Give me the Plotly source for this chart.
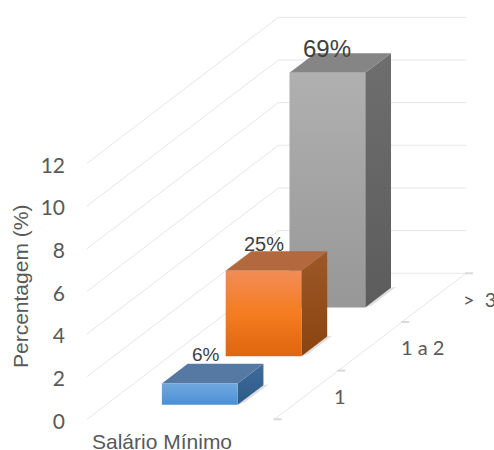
import plotly.graph_objects as go

# ---- data ----
categories = ["1", "1 a 2", ">  3"]
values = [1, 4, 11]
percent_labels = ["6%", "25%", "69%"]
value_ticks = [0, 2, 4, 6, 8, 10, 12]
series_title = "Salário Mínimo"
axis_title = "Percentagem (%)"

# ---- styles ----
front_scales = [
    [[0, "#4A90D6"], [1, "#71A8DE"]],
    [[0, "#E0650F"], [0.5, "#F57C20"], [1, "#F28C56"]],
    [[0, "#979797"], [1, "#B0B0B0"]],
]
side_scales = [
    [[0, "#2C5A8A"], [1, "#3F6C99"]],
    [[0, "#8A4410"], [1, "#9C5828"]],
    [[0, "#5C5C5C"], [1, "#6E6E6E"]],
]
top_colors = ["#5679A3", "#B3683E", "#858585"]
label_sizes = [19, 20, 24]
label_shift = [(6, 9), (0, 7), (0, 5)]  # px: x, y above the back edge of the bar top
GRID = "#E6E6E6"
TICK_TXT = "#595959"

W, H = 494, 450
LEFT = 68
ORIGIN_X, ORIGIN_Y = 87, 419.3   # front-left floor corner in page pixels
UNIT_X, UNIT_Y = 187.5, 21.33    # pixels per category width, per value unit
DEPTH_X, DEPTH_Y = 63.8, 48.67   # pixels per series slot of depth
BAR = 0.404
GAP = (1 - BAR) / 2


def project(u, d, v):
    """Oblique projection: category position u, depth d, value v -> axis coordinates."""
    return u + d * DEPTH_X / UNIT_X, v + d * DEPTH_Y / UNIT_Y


def poly(points, **kw):
    xy = [project(*p) for p in points]
    xy.append(xy[0])
    return go.Scatter(
        x=[p[0] for p in xy], y=[p[1] for p in xy], mode="lines",
        line=dict(width=0), fill="toself", hoverinfo="skip", showlegend=False, **kw
    )


def seg(a, b, color=GRID, width=1):
    pa, pb = project(*a), project(*b)
    return go.Scatter(
        x=[pa[0], pb[0]], y=[pa[1], pb[1]], mode="lines",
        line=dict(color=color, width=width), hoverinfo="skip", showlegend=False
    )


n = len(categories)
fig = go.Figure()

# walls
for t in value_ticks:
    fig.add_trace(seg((0, 0, t), (0, n, t)))
    fig.add_trace(seg((0, n, t), (1, n, t)))
# floor edge and its tick marks
fig.add_trace(seg((1, 0, 0), (1, n, 0)))
for d in range(n + 1):
    a = project(1, d, 0)
    fig.add_trace(go.Scatter(
        x=[a[0] - 1 / UNIT_X, a[0] + 7 / UNIT_X], y=[a[1], a[1]], mode="lines",
        line=dict(color="#D9D9D9", width=2), hoverinfo="skip", showlegend=False))

# bars, back to front
for i in reversed(range(n)):
    u0, u1, d0, d1, v = GAP, GAP + BAR, i + GAP, i + GAP + BAR, values[i]
    # soft floor shadow
    fig.add_trace(poly([(u1, d0, 0), (u1 + 0.02, d0 + 0.04, 0), (u1 + 0.02, d1 + 0.02, 0), (u1, d1, 0)],
                       fillcolor="rgba(120,120,120,0.25)"))
    fig.add_trace(poly([(u1, d0, 0), (u1, d1, 0), (u1, d1, v), (u1, d0, v)],
                       fillgradient=dict(type="vertical", colorscale=side_scales[i])))
    fig.add_trace(poly([(u0, d0, v), (u1, d0, v), (u1, d1, v), (u0, d1, v)],
                       fillcolor=top_colors[i]))
    fig.add_trace(poly([(u0, d0, 0), (u1, d0, 0), (u1, d0, v), (u0, d0, v)],
                       fillgradient=dict(type="vertical", colorscale=front_scales[i])))
    lx, ly = project((u0 + u1) / 2, d1, v)
    lx -= (d1 - d0) * DEPTH_X / UNIT_X
    fig.add_annotation(x=lx, y=ly, text=percent_labels[i], showarrow=False,
                       xshift=label_shift[i][0], yshift=label_shift[i][1],
                       font=dict(family="Liberation Sans", size=label_sizes[i], color="#404040"))

# category labels on the depth axis
cat_pos = [(340, 396), (422, 347), (479, 299)]
for i, c in enumerate(categories):
    ax, ay = project(1, i + 0.5, 0)
    fig.add_annotation(x=ax, y=ay, text=c, showarrow=False, xanchor="center",
                       xshift=cat_pos[i][0] - (ORIGIN_X + ax * UNIT_X),
                       yshift=(ORIGIN_Y - ay * UNIT_Y) - cat_pos[i][1],
                       font=dict(family="Lato", size=20, color=TICK_TXT))

fig.add_annotation(xref="paper", yref="paper", x=(161.5 - LEFT) / (W - LEFT), y=1 - 441.5 / H,
                   text=series_title, showarrow=False, xanchor="center", yanchor="middle",
                   font=dict(family="Liberation Sans", size=21, color=TICK_TXT))
fig.add_annotation(xref="paper", yref="paper", x=(20 - LEFT) / (W - LEFT), y=1 - 287 / H,
                   text=axis_title, showarrow=False, textangle=-90, xanchor="center", yanchor="middle",
                   font=dict(family="Liberation Sans", size=21, color=TICK_TXT))

fig.update_layout(
    width=W, height=H, margin=dict(l=LEFT, r=0, t=0, b=0),
    paper_bgcolor="white", plot_bgcolor="white", showlegend=False,
    xaxis=dict(range=[(LEFT - ORIGIN_X) / UNIT_X, (W - ORIGIN_X) / UNIT_X], visible=False, fixedrange=True),
    yaxis=dict(range=[(ORIGIN_Y - H) / UNIT_Y, ORIGIN_Y / UNIT_Y], tickmode="array",
               tickvals=value_ticks, ticktext=[str(t) for t in value_ticks],
               showgrid=False, zeroline=False, showline=False, ticks="", ticklabelstandoff=2,
               ticklabelshift=2,
               tickfont=dict(family="Lato", size=21, color=TICK_TXT), fixedrange=True),
)
fig.write_html("out.html", config={"displayModeBar": False},
               post_script="document.body.style.margin='0';document.body.style.overflow='hidden';")
